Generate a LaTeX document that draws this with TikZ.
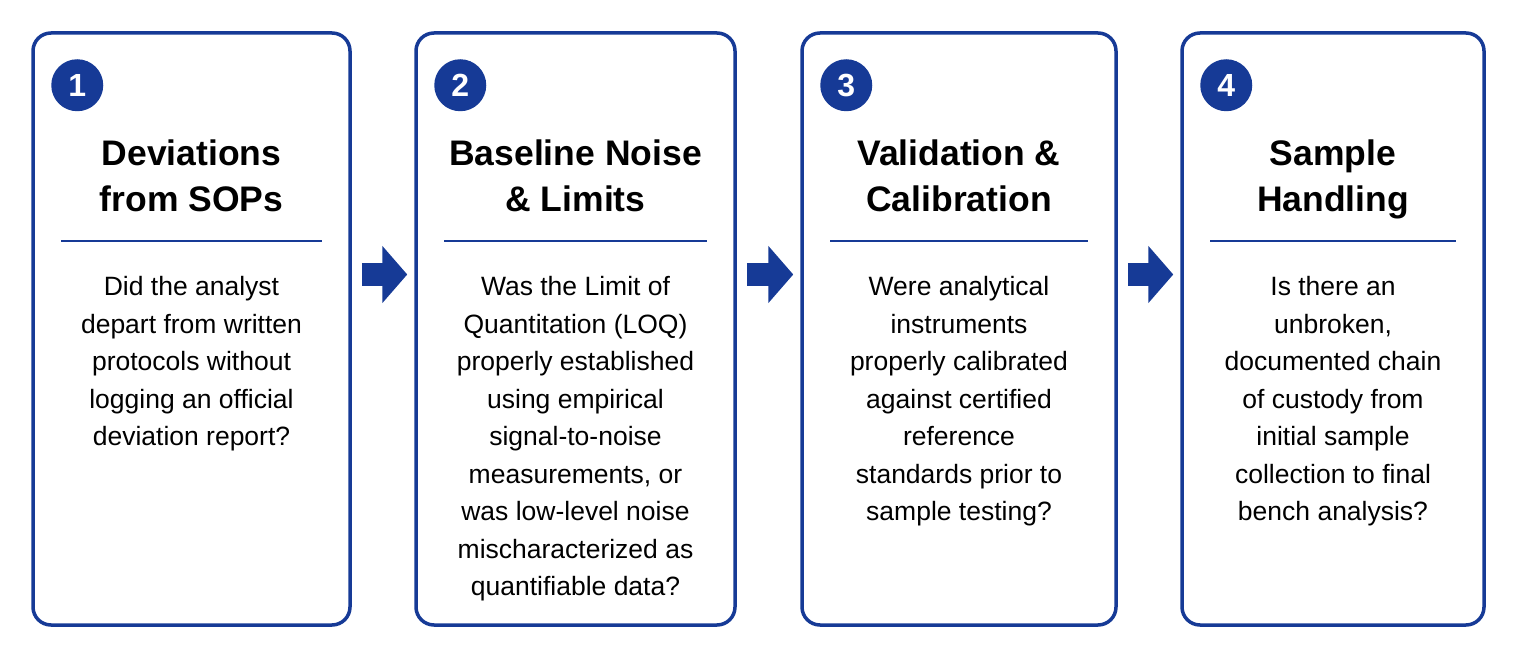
\documentclass[tikz,border=0pt]{standalone}
\usepackage{fontspec}
\setmainfont{Liberation Sans}
\usetikzlibrary{arrows.meta,calc}
\definecolor{navy}{RGB}{22,58,150}

\tikzset{
	card/.style={draw=navy,line width=3.5pt,rounded corners=18pt,minimum height=592pt,inner sep=0pt},
	badge/.style={circle,fill=navy,text=white,minimum size=52pt,inner sep=0pt,font=\fontsize{32}{32}\selectfont\bfseries},
	cardtitle/.style={anchor=north,align=center,inner sep=0pt,font=\fontsize{35.5}{46}\selectfont\bfseries},
	cardbody/.style={anchor=north,align=center,inner sep=0pt,font=\fontsize{26.5}{37.5}\selectfont},
	cardrule/.style={draw=navy,line width=2.5pt},
	flow/.style={draw=navy,line width=23pt,-{Triangle[length=25pt,width=56pt]}}
}

\begin{document}
\begin{tikzpicture}[x=1pt,y=1pt]
	\useasboundingbox (0,0) rectangle (1518,659);
	
	%cards
	\node[card,minimum width=317pt] (b1) at (191.5,330) {};
	\node[card,minimum width=319pt] (b2) at (575.5,330) {};
	\node[card,minimum width=314pt] (b3) at (959,330) {};
	\node[card,minimum width=302pt] (b4) at (1333,330) {};
	
	%numbers and rules
	\foreach \i in {1,...,4} {
		\node[badge] (n\i) at ($(b\i.north west)+(46,-54)$) {\i};
		\draw[cardrule] ($(b\i.north west)+(30,-210)$) -- ($(b\i.north east)+(-30,-210)$);
	}
	
	%titles
	\node[cardtitle] (t1) at ($(b1.north)+(0,-108)$) {Deviations\\from SOPs};
	\node[cardtitle] (t2) at ($(b2.north)+(0,-108)$) {Baseline Noise\\\& Limits};
	\node[cardtitle] (t3) at ($(b3.north)+(0,-108)$) {Validation \&\\Calibration};
	\node[cardtitle] (t4) at ($(b4.north)+(0,-108)$) {Sample\\Handling};
	
	%questions
	\node[cardbody] (q1) at ($(b1.north)+(0,-245)$) {Did the analyst\\depart from written\\protocols without\\logging an official\\deviation report?};
	\node[cardbody] (q2) at ($(b2.north)+(0,-245)$) {Was the Limit of\\Quantitation (LOQ)\\properly established\\using empirical\\signal-to-noise\\measurements, or\\was low-level noise\\mischaracterized as\\quantifiable data?};
	\node[cardbody] (q3) at ($(b3.north)+(0,-245)$) {Were analytical\\instruments\\properly calibrated\\against certified\\reference\\standards prior to\\sample testing?};
	\node[cardbody] (q4) at ($(b4.north)+(0,-245)$) {Is there an\\unbroken,\\documented chain\\of custody from\\initial sample\\collection to final\\bench analysis?};
	
	%arrows
	\foreach \a/\b in {b1/b2,b2/b3,b3/b4}
	\draw[flow] ($(\a.east)+(10,54.5)$) -- ($(\b.west)+(-7,54.5)$);
	
\end{tikzpicture}
\end{document}
